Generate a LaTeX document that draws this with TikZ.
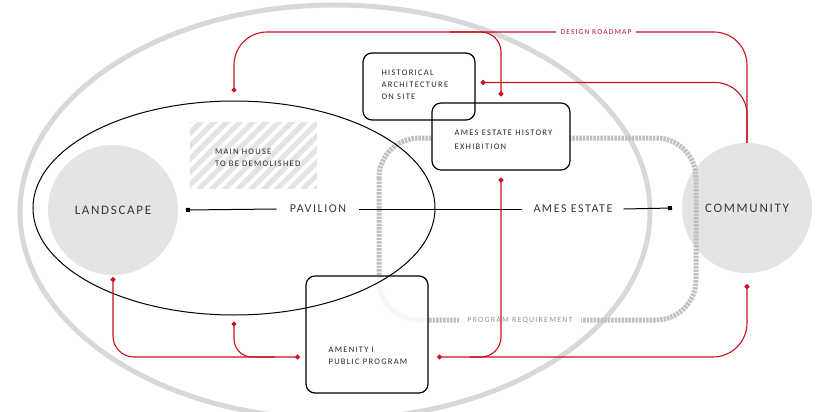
\documentclass[tikz,border=0pt]{standalone}
\usepackage{fontspec}
\setmainfont{Carlito}
\newfontfamily\lab[LetterSpace=13]{Carlito}
\newfontfamily\labs[LetterSpace=15]{Carlito}
\usetikzlibrary{arrows.meta,shapes.geometric,calc}
\definecolor{rd}{RGB}{200,16,32}
\definecolor{txt}{RGB}{55,55,55}
\definecolor{ellg}{RGB}{216,216,216}
\definecolor{dashg}{RGB}{192,192,192}
\definecolor{cf}{RGB}{228,228,228}
\definecolor{hatchg}{RGB}{228,228,228}
\definecolor{reqg}{RGB}{150,150,150}
\tikzset{
  circnode/.style={circle, fill=cf, inner sep=0, minimum size=130pt, text=txt, font=\lab\fontsize{13}{15}\selectfont},
  midlab/.style={inner xsep=13pt, inner ysep=2pt, text=txt, font=\lab\fontsize{12}{14}\selectfont},
  boxnode/.style={draw, line width=1.2pt, rounded corners=9pt, inner sep=0},
  boxtext/.style={inner sep=0, align=left, text=black!85, font=\labs\fontsize{8.5}{12}\selectfont},
  blk/.style={line width=1pt, black},
  rline/.style={line width=1.1pt, rd},
  dot/.tip={Circle[length=5pt]},
  sq/.tip={Square[length=4pt,width=4pt]},
}
\begin{document}
\begin{tikzpicture}[x=1pt,y=-1pt]
\useasboundingbox (0,0) rectangle (817,412);
% big outer ellipse
\draw[ellg, line width=5pt] (335,212) ellipse[x radius=315, y radius=207];
% circles
\node[circnode] (land) at (113,210) {LANDSCAPE};
\node[circnode] (comm) at (747,208) {COMMUNITY};
% program requirement
\draw[dashg, line width=5pt, dash pattern=on 2.5pt off 1pt, rounded corners=40pt] (379,138) rectangle (696,320);
\node[boxtext, fill=white, inner xsep=8pt, inner ysep=3pt, text=reqg, font=\labs\fontsize{8}{10}\selectfont] (req) at (520,320) {PROGRAM REQUIREMENT};
% main house hatched
\node[inner sep=0, minimum width=127pt, minimum height=65pt] (house) at (253.5,155.5) {};
\begin{scope}
\clip (house.south west) rectangle (house.north east);
\foreach \i in {0,...,17} \draw[hatchg, line width=5pt] (120+\i*13,190) -- ++(70,-70);
\end{scope}
\node[boxtext, anchor=west] (housetxt) at ([xshift=25pt,yshift=-2pt]house.west) {MAIN HOUSE\\TO BE DEMOLISHED};
% amenity box (semi-opaque fill under the pavilion ellipse)
\node[boxnode, fill=white, fill opacity=0.85, minimum width=122pt, minimum height=117pt] (amen) at (367,334.5) {};
% pavilion ellipse
\node[ellipse, draw, line width=1pt, inner sep=0, minimum width=402pt, minimum height=214pt] (pav) at (234,208) {};
% boxes
\node[boxnode, fill=white, minimum width=138pt, minimum height=67pt] (exhib) at (501,136.5) {};
\node[boxtext, anchor=west, font=\labs\fontsize{8.5}{14}\selectfont] (exhibtxt) at ([xshift=23pt,yshift=-3pt]exhib.west) {AMES ESTATE HISTORY\\EXHIBITION};
\node[boxnode, minimum width=112pt, minimum height=67pt] (hist) at (419,86.5) {};
\node[boxtext, anchor=west] (histtxt) at ([xshift=19pt,yshift=2pt]hist.west) {HISTORICAL\\ARCHITECTURE\\ON SITE};
\node[boxtext, anchor=west] (amentxt) at ([xshift=23pt,yshift=-21.5pt]amen.west) {AMENITY I\\PUBLIC PROGRAM};
% center labels and black line
\node[midlab] (pavt) at (318,209) {PAVILION};
\node[midlab, inner xsep=11pt] (ames) at (573,209) {AMES ESTATE};
\draw[blk, -sq] (pavt.west) -- (land.east -| 186,0);
\draw[blk] (pavt.east) -- (ames.west);
\draw[blk, -sq] (ames.east) -- (comm.west -| 672,0);
% red connectors
\coordinate (br1) at (450,32);
\coordinate (aR) at (437,357);
\coordinate (aL) at (300,357);
\coordinate (aM) at (275,357);
\coordinate (aX) at (470,357);
\draw[rline, rounded corners=33pt, -dot] (comm.north) -- (comm.north |- 0,32) -| ([yshift=8pt]pav.north);
\draw[rline, rounded corners=20pt, -dot] (br1) -| ([yshift=6pt]exhib.north);
\draw[rline, rounded corners=32pt, -dot] (comm.north) |- ([xshift=5pt,yshift=4pt]hist.east);
\node[inner xsep=5pt, inner ysep=2pt, fill=white, text=rd, font=\labs\fontsize{7.5}{9}\selectfont] (dr) at (596,32) {DESIGN ROADMAP};
\draw[rline, rounded corners=20pt, dot-] ([yshift=-7pt]exhib.south) |- (aX);
\draw[rline, rounded corners=34pt, dot-dot] (aR) -| ([yshift=-11pt]comm.south);
\draw[rline, rounded corners=21pt, dot-dot] ([yshift=-2pt]land.south) |- (aL);
\draw[rline, rounded corners=18pt, dot-] ([yshift=-6pt]pav.south) |- (aM);
\end{tikzpicture}
\end{document}
